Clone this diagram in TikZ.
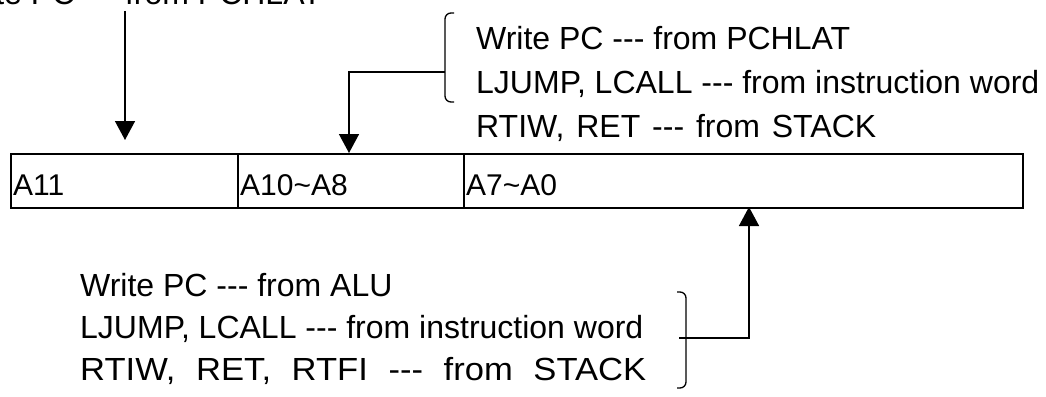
\documentclass[tikz,border=0pt]{standalone}
\usepackage{fontspec}
\usepackage{graphicx}
\newfontfamily\lsans{Liberation Sans}
\usetikzlibrary{arrows.meta}
\begin{document}
\begin{tikzpicture}[x=1pt,y=-1pt,
  cell/.style={draw, line width=1.5pt, minimum height=54pt, inner sep=0pt, anchor=north west},
  lbl/.style={font=\lsans\fontsize{30}{36}\selectfont, anchor=base west, inner sep=0pt},
  txt/.style={font=\lsans\fontsize{32}{38}\selectfont, anchor=base west, inner sep=0pt},
  conn/.style={line width=1.5pt, -{Triangle[width=20pt,length=19pt]}},
  brk/.style={line width=1.3pt, rounded corners=6pt}]
\useasboundingbox (0,0) rectangle (1046,396);
\clip (0,0) rectangle (1046,396);
% register cells
\node[cell, minimum width=227pt] (c1) at (10,153) {};
\node[cell, minimum width=226pt] (c2) at (237,153) {};
\node[cell, minimum width=559pt] (c3) at (463,153) {};
\node[lbl] (l1) at (13,195) {A11};
\node[lbl] (l2) at (240,195) {A10\textasciitilde A8};
\node[lbl] (l3) at (466,195) {A7\textasciitilde A0};
% top-left (clipped) text and arrow
\node[txt, anchor=base east] (t0) at (322,5) {Write PC --- from PCHLAT};
\coordinate (a1s) at (125,11);
\coordinate (a1e) at (125,140);
\draw[conn] (a1s) -- (a1e);
% top-right texts with bracket
\node[txt] (t1) at (476,49) {Write PC --- from PCHLAT};
\node[txt] (t2) at (476,93) {LJUMP, LCALL --- from instruction word};
\node[txt] (t3) at (476,137) {\makebox[400pt][s]{RTIW, RET --- from STACK}};
\draw[brk] (454,13) -- (445,13) -- (445,102) -- (454,102);
\coordinate (tbm) at (445,72);
\coordinate (a2e) at (349,153);
\draw[conn] (tbm) -| (a2e);
% bottom texts with bracket
\node[txt] (b1) at (80,296) {Write PC --- from ALU};
\node[txt] (b2) at (80,338) {LJUMP, LCALL --- from instruction word};
\node[txt] (b3) at (80,380) {\scalebox{1.08}[1]{\makebox[524pt][s]{RTIW, RET, RTFI --- from STACK}}};
\draw[brk] (677,292) -- (686,292) -- (686,388) -- (677,388);
\coordinate (bbm) at (679,338);
\coordinate (a3e) at (749,207);
\draw[conn] (bbm) -| (a3e);
\end{tikzpicture}
\end{document}
